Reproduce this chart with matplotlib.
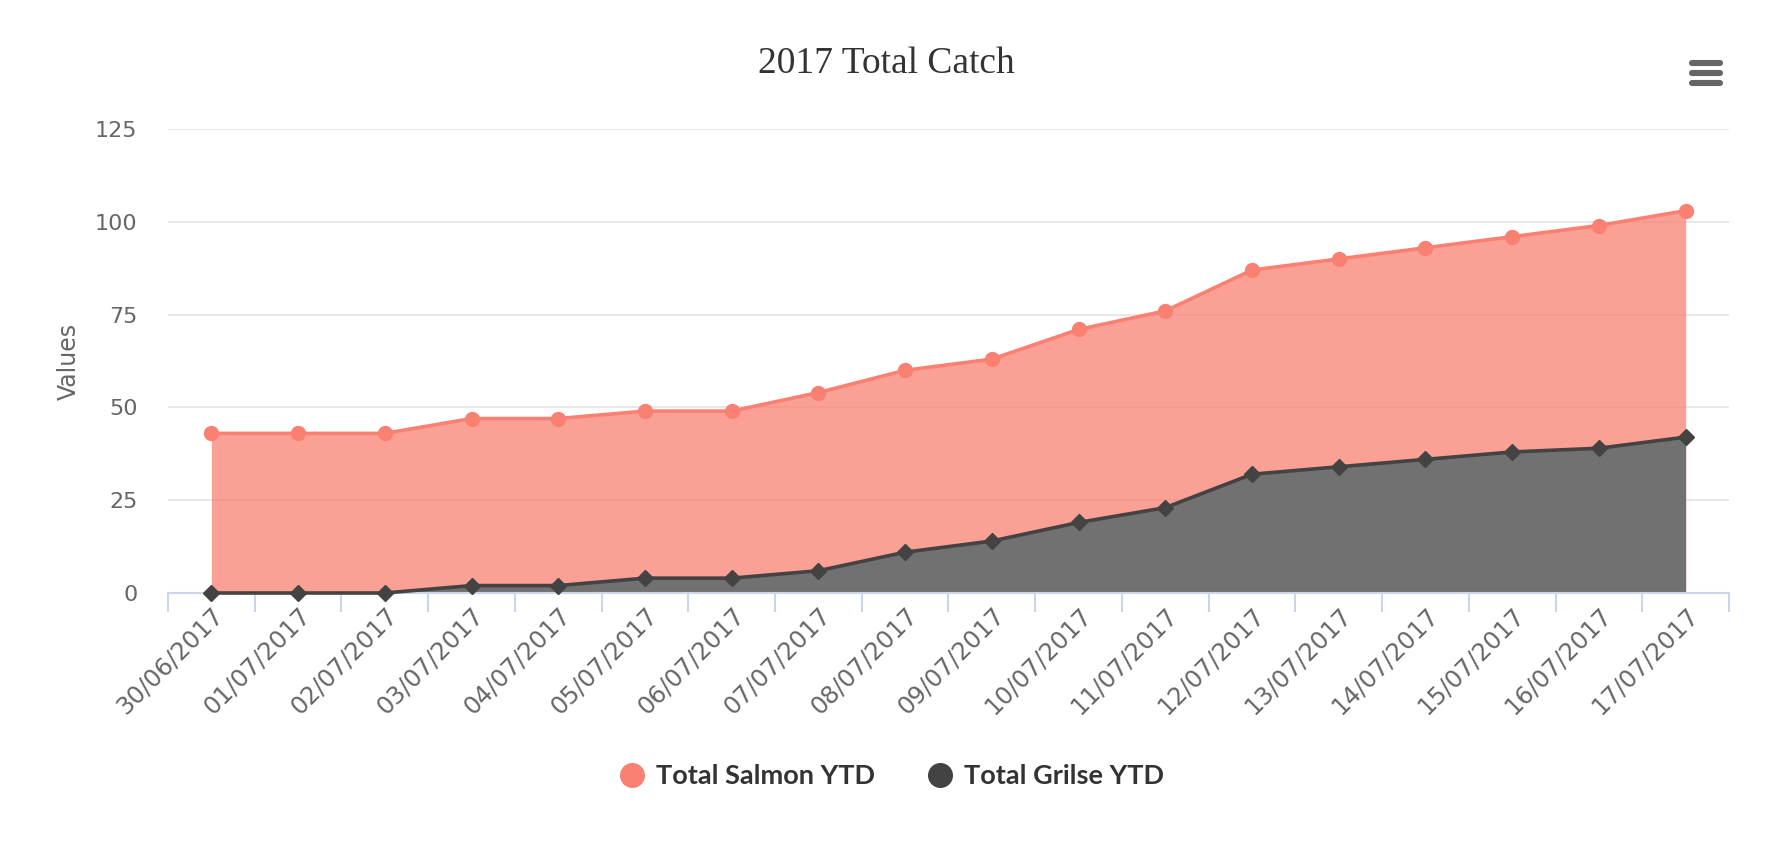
import matplotlib
matplotlib.use("Agg")
import matplotlib.pyplot as plt
from matplotlib.lines import Line2D

# data
dates = ["30/06/2017", "01/07/2017", "02/07/2017", "03/07/2017", "04/07/2017",
         "05/07/2017", "06/07/2017", "07/07/2017", "08/07/2017", "09/07/2017",
         "10/07/2017", "11/07/2017", "12/07/2017", "13/07/2017", "14/07/2017",
         "15/07/2017", "16/07/2017", "17/07/2017"]
salmon = [43, 43, 43, 47, 47, 49, 49, 54, 60, 63, 71, 76, 87, 90, 93, 96, 99, 103]
grilse = [0, 0, 0, 2, 2, 4, 4, 6, 11, 14, 19, 23, 32, 34, 36, 38, 39, 42]
yticks = [0, 25, 50, 75, 100, 125]

salmonColor = "#fa8072"
grilseColor = "#434343"

W, H = 1787, 852
fig = plt.figure(figsize=(W / 100, H / 100), dpi=100)
ax = fig.add_axes([168 / W, 1 - 593 / H, (1729 - 168) / W, (593 - 129) / H])

x = list(range(len(dates)))

ax.fill_between(x, salmon, 0, color=salmonColor, alpha=0.75, linewidth=0, zorder=2)
ax.plot(x, salmon, color=salmonColor, lw=2.6, marker="o", ms=10, zorder=4)
ax.fill_between(x, grilse, 0, color="#717171", linewidth=0, zorder=3)
ax.plot(x, grilse, color=grilseColor, lw=2.6, marker="D", ms=8.5, zorder=7, clip_on=False)

ax.set_xlim(-0.5, len(dates) - 0.5)
ax.set_ylim(0, 125)
ax.set_yticks(yticks)
ax.yaxis.grid(True, color="#e6e6e6", lw=1.3)
ax.set_axisbelow(True)

for s in ["top", "right", "left"]:
    ax.spines[s].set_visible(False)
ax.spines["bottom"].set_color("#ccd6eb")
ax.spines["bottom"].set_linewidth(1.5)
ax.spines["bottom"].set_zorder(6)

# ticks at category boundaries, labels at centres
ax.set_xticks([i - 0.5 for i in range(len(dates) + 1)])
ax.set_xticklabels([])
ax.tick_params(axis="x", which="major", length=14, width=1.5, color="#ccd6eb")
ax.set_xticks(x, minor=True)
ax.set_xticklabels(dates, minor=True, rotation=45, ha="right", rotation_mode="anchor",
                   fontsize=17.5, color="#666666")
ax.tick_params(axis="x", which="minor", length=0, pad=7)
ax.tick_params(axis="y", length=0, labelsize=16, labelcolor="#666666", pad=22)

ax.set_ylabel("Values", fontsize=17, color="#666666", labelpad=10)

fig.text(886 / W, 1 - 64 / H, "2017 Total Catch", ha="center", va="center",
         fontsize=27, family="Liberation Serif", color="#333333")

# hamburger menu icon
for yy in [63, 73, 83]:
    fig.add_artist(Line2D([1692 / W, 1720 / W], [1 - yy / H, 1 - yy / H],
                          transform=fig.transFigure, color="#666666", lw=4.4,
                          solid_capstyle="round"))

handles = [Line2D([], [], marker="o", ls="", color=salmonColor, ms=17),
           Line2D([], [], marker="o", ls="", color=grilseColor, ms=17)]
leg = fig.legend(handles, ["Total Salmon YTD", "Total Grilse YTD"], loc="center",
                 bbox_to_anchor=(890 / W, 1 - 776 / H), ncol=2, frameon=False,
                 prop={"family": "Lato", "weight": "bold", "size": 19.5},
                 handletextpad=0.3, columnspacing=1.8, handlelength=1.2)
for t in leg.get_texts():
    t.set_color("#333333")

fig.savefig("out.png", dpi=100, facecolor="white")
